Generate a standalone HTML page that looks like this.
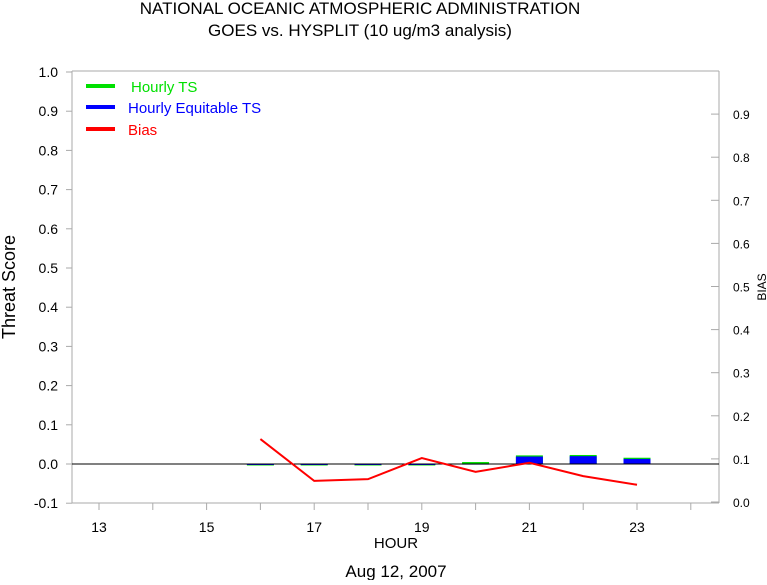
<!DOCTYPE html>
<html><head><meta charset="utf-8"><style>
body{margin:0;background:#fff;width:767px;height:580px;overflow:hidden}
svg text{font-family:"Liberation Sans",sans-serif}
</style></head><body>
<svg width="767" height="580">
<g id="root"></g>
</svg>
<script>
const hours=[16,17,18,19,20,21,22,23];
const tsValues=[-0.002,-0.002,-0.002,-0.001,0.005,0.022,0.023,0.016];
const etsValues=[-0.002,-0.002,-0.002,-0.001,0.001,0.019,0.020,0.013];
const biasValues=[0.146,0.049,0.053,0.102,0.070,0.091,0.060,0.040];
const leftTicks=[1.0,0.9,0.8,0.7,0.6,0.5,0.4,0.3,0.2,0.1,0.0,-0.1];
const rightTicks=[0.9,0.8,0.7,0.6,0.5,0.4,0.3,0.2,0.1,0.0];
const xLabels=[13,15,17,19,21,23];
const xTicks=[13,14,15,16,17,18,19,20,21,22,23,24];
const L=72,R=719,T=71,B=503;
const x=h=>99+(h-13)*53.8;
const yL=v=>72+(1.0-v)*392;
const yR=v=>502-v*431;
const root=document.getElementById('root');
const NS='http://www.w3.org/2000/svg';
function mk(tag,attrs,name,parent){const e=document.createElementNS(NS,tag);for(const k in attrs)e.setAttribute(k,attrs[k]);


(parent||root).appendChild(e);return e;}
function txt(s,attrs,name){const e=mk('text',attrs,name);e.textContent=s;return e;}
txt('NATIONAL OCEANIC ATMOSPHERIC ADMINISTRATION',{x:360,y:14,'font-size':17,'text-anchor':'middle'},'title-line1');
txt('GOES vs. HYSPLIT  (10 ug/m3 analysis)',{x:360,y:36,'font-size':17,'text-anchor':'middle'},'title-line2');
mk('line',{x1:L,y1:T,x2:R,y2:T,stroke:'#aaa'},'top-border');
mk('line',{x1:L,y1:T,x2:L,y2:B,stroke:'#aaa'},'left-axis');
mk('line',{x1:R,y1:T,x2:R,y2:B,stroke:'#aaa'},'right-axis');
mk('line',{x1:L,y1:B,x2:R,y2:B,stroke:'#aaa'},'bottom-axis');
leftTicks.forEach(v=>{mk('line',{x1:L-6,y1:yL(v),x2:L,y2:yL(v),stroke:'#aaa'},'left-tick');
txt(v.toFixed(1),{x:58,y:yL(v)+5,'font-size':14,'text-anchor':'end'},'left-tick-label');});
rightTicks.forEach(v=>{mk('line',{x1:R-8,y1:yR(v),x2:R,y2:yR(v),stroke:'#aaa'},'right-tick');
txt(v.toFixed(1),{x:733,y:yR(v)+5,'font-size':12},'right-tick-label');});
xTicks.forEach(h=>mk('line',{x1:x(h),y1:B,x2:x(h),y2:B+7,stroke:'#aaa'},'x-tick'));
xLabels.forEach(h=>txt(String(h),{x:x(h),y:532,'font-size':14,'text-anchor':'middle'},'x-tick-label'));
txt('HOUR',{x:396,y:548,'font-size':15,'text-anchor':'middle'},'x-axis-title');
txt('Aug 12, 2007',{x:396,y:577,'font-size':17,'text-anchor':'middle'},'date-label');
txt('Threat Score',{x:0,y:0,'font-size':18,'text-anchor':'middle',transform:'translate(15,287) rotate(-90)'},'y-axis-title');
txt('BIAS',{x:0,y:0,'font-size':12,'text-anchor':'middle',transform:'translate(766,287) rotate(-90)'},'y2-axis-title');
hours.forEach((h,i)=>{const y0=yL(0),w=27;
const yt=yL(tsValues[i]),ye=yL(etsValues[i]);
mk('rect',{x:x(h)-w/2,y:Math.min(yt,y0),width:w,height:Math.max(1.5,Math.abs(y0-yt)),fill:'#00e000'},'bar-ts');
mk('rect',{x:x(h)-w/2,y:Math.min(ye,y0),width:w,height:Math.max(1,Math.abs(y0-ye)),fill:'#0000ff'},'bar-ets');});
mk('line',{x1:L,y1:yL(0),x2:R,y2:yL(0),stroke:'#000'},'zero-line');
mk('polyline',{points:hours.map((h,i)=>x(h)+','+yR(biasValues[i])).join(' '),fill:'none',stroke:'#ff0000','stroke-width':2},'bias-line');
const leg=[['Hourly TS','#00e000',92],['Hourly Equitable TS','#0000ff',113],['Bias','#ff0000',135]];
leg.forEach(([s,c,y])=>{mk('line',{x1:86,y1:y-6,x2:115,y2:y-6,stroke:c,'stroke-width':4},'legend-swatch');
txt(s,{x:s==='Hourly TS'?131:128,y:y,'font-size':15,fill:c},'legend-entry');});
</script>
</body></html>
